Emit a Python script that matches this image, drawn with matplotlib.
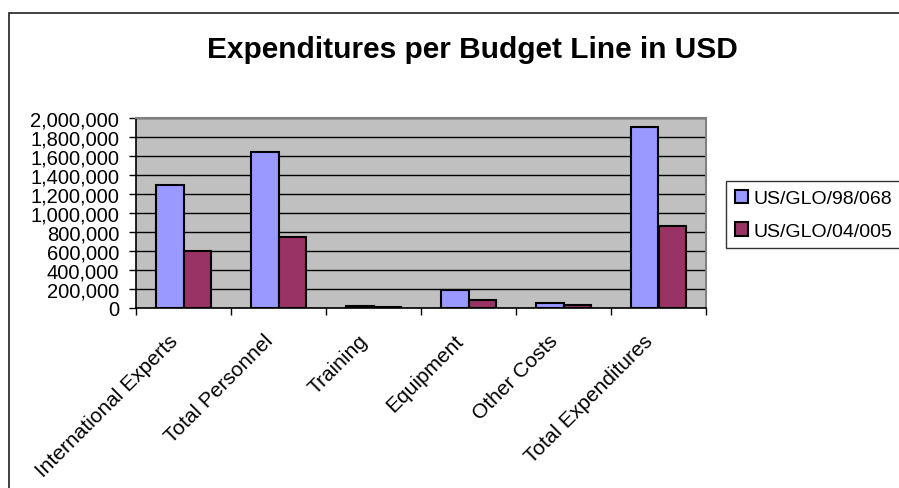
import matplotlib
matplotlib.use("Agg")
import matplotlib.pyplot as plt
from matplotlib.patches import Rectangle
from matplotlib.ticker import FuncFormatter, MultipleLocator
import numpy as np

categories = ["International Experts", "Total Personnel", "Training",
              "Equipment", "Other Costs", "Total Expenditures"]
series_names = ["US/GLO/98/068", "US/GLO/04/005"]
values_98_068 = [1300000, 1645000, 18000, 190000, 55000, 1905000]
values_04_005 = [595000, 745000, 8000, 85000, 35000, 865000]
colors = ["#9999FF", "#993366"]

plt.rcParams['font.family'] = ['Liberation Sans', 'DejaVu Sans']

fig = plt.figure(figsize=(8.99, 4.89), dpi=100)

# outer chart border
fig.patches.append(Rectangle((9 / 899, -0.05), 1.2, 1 - 14 / 489 + 0.05,
                             transform=fig.transFigure, fill=False,
                             edgecolor="#333333", linewidth=1.3, zorder=0))
# clipped heading at very top
fig.text(76 / 899, 1 + 5.5 / 489, "Expenditures per Budget Line",
         fontsize=21.5, fontweight="bold", ha="left", va="baseline")

ax = fig.add_axes([136 / 899, 1 - 309 / 489, 570 / 899, 190 / 489])
ax.set_facecolor("#C0C0C0")

x = np.arange(len(categories))
w = 1 / 3.5
ax.bar(x - w / 2, values_98_068, width=w, color=colors[0], edgecolor="black",
       linewidth=1.5, label=series_names[0], zorder=3)
ax.bar(x + w / 2, values_04_005, width=w, color=colors[1], edgecolor="black",
       linewidth=1.5, label=series_names[1], zorder=3)

ax.set_xlim(-0.5, len(categories) - 0.5)
ax.set_ylim(0, 2000000)
ax.yaxis.set_major_locator(MultipleLocator(200000))
ax.yaxis.set_major_formatter(FuncFormatter(lambda v, p: f"{int(v):,}"))
ax.grid(axis="y", color="black", linewidth=1, zorder=1)
ax.set_axisbelow(True)

ax.set_xticks(np.arange(len(categories) + 1) - 0.5)
ax.set_xticklabels([])
ax.tick_params(axis="x", direction="out", length=5, width=1, color="black")
ax.tick_params(axis="y", direction="out", length=5, width=1, color="black",
               labelsize=14.5, pad=7)
for i, c in enumerate(categories):
    ax.text(i - 0.16, -0.12, c, transform=ax.get_xaxis_transform(),
            rotation=45, rotation_mode="anchor", ha="right", va="top",
            fontsize=15)

for s in ["top", "right"]:
    ax.spines[s].set_color("#808080")
    ax.spines[s].set_linewidth(1.5)
for s in ["left", "bottom"]:
    ax.spines[s].set_color("black")
    ax.spines[s].set_linewidth(1.2)

fig.text(472 / 899, 1 - 50 / 489, "Expenditures per Budget Line in USD",
         fontsize=21.5, fontweight="bold", ha="center", va="center")

leg = fig.legend(loc="upper left", bbox_to_anchor=(726 / 899, 1 - 182 / 489),
                 fontsize=14, frameon=True, fancybox=False, handlelength=0.7,
                 handleheight=0.7, handletextpad=0.25, borderpad=0.45,
                 labelspacing=0.75, borderaxespad=0)
leg.get_frame().set_edgecolor("black")
leg.get_frame().set_linewidth(1)

fig.savefig("out.png", dpi=100)
